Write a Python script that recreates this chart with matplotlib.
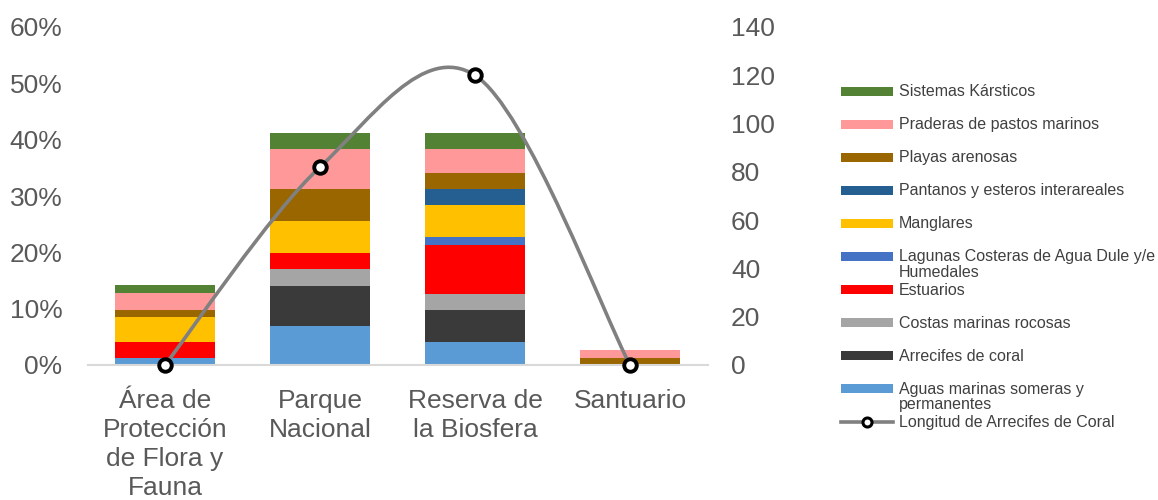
import numpy as np
import matplotlib
matplotlib.use("Agg")
from matplotlib import pyplot as plt
from matplotlib.patches import Rectangle
from matplotlib.lines import Line2D
from matplotlib.path import Path
from matplotlib.patches import PathPatch

plt.rcParams['font.family'] = ['Liberation Sans', 'DejaVu Sans']

categories = ['Área de\nProtección\nde Flora y\nFauna', 'Parque\nNacional',
              'Reserva de\nla Biosfera', 'Santuario']

# stacked habitat shares (%), bottom to top
series_names = ['Aguas marinas someras y\npermanentes', 'Arrecifes de coral',
                'Costas marinas rocosas', 'Estuarios',
                'Lagunas Costeras de Agua Dule y/e\nHumedales', 'Manglares',
                'Pantanos y esteros interareales', 'Playas arenosas',
                'Praderas de pastos marinos', 'Sistemas Kársticos']
aguas = [1.3, 7.0, 4.1, 0.0]
arrecifes = [0.0, 7.1, 5.7, 0.0]
costas = [0.0, 2.9, 2.85, 0.0]
estuarios = [2.85, 2.8, 8.65, 0.0]
lagunas = [0.0, 0.0, 1.4, 0.0]
manglares = [4.3, 5.8, 5.75, 0.0]
pantanos = [0.0, 0.0, 2.8, 0.0]
playas = [1.4, 5.7, 2.85, 1.2]
praderas = [2.9, 7.1, 4.3, 1.5]
karsticos = [1.5, 2.8, 2.85, 0.0]
series_values = [aguas, arrecifes, costas, estuarios, lagunas, manglares,
                 pantanos, playas, praderas, karsticos]
colors = ['#5B9BD5', '#3A3A3A', '#A5A5A5', '#FF0000', '#4472C4', '#FFC000',
          '#255E91', '#996600', '#FF9999', '#548235']

# coral reef length (right axis)
longitud = [0, 82, 120, 0]
line_name = 'Longitud de Arrecifes de Coral'

TICK_COLOR = '#595959'
FS = 19

fig = plt.figure(figsize=(11.58, 5), dpi=100)
ax = fig.add_axes([87.5 / 1158, 1 - 365 / 500, 620 / 1158, 338 / 500])
x = np.arange(len(categories))
bottom = np.zeros(len(categories))
for vals, c in zip(series_values, colors):
    v = np.array(vals) / 100.0
    ax.bar(x, v, 0.645, bottom=bottom, color=c, edgecolor='none', zorder=2)
    bottom += v

ax.set_xlim(-0.5, len(categories) - 0.5)
ax.set_ylim(0, 0.6)
ax.set_yticks(np.arange(0, 0.61, 0.1))
ax.set_yticklabels(['%d%%' % round(t * 100) for t in np.arange(0, 0.61, 0.1)])
ax.set_xticks(x)
ax.set_xticklabels(categories, linespacing=1.25)
for s in ['top', 'left', 'right']:
    ax.spines[s].set_visible(False)
ax.spines['bottom'].set_color('#D9D9D9')
ax.spines['bottom'].set_linewidth(1.5)
ax.tick_params(axis='y', length=0, pad=18, labelsize=FS, labelcolor=TICK_COLOR)
ax.tick_params(axis='x', length=0, pad=17.5, labelsize=FS, labelcolor=TICK_COLOR)

ax2 = ax.twinx()
ax2.set_ylim(0, 140)
ax2.set_yticks(np.arange(0, 141, 20))
for s in ['top', 'left', 'right', 'bottom']:
    ax2.spines[s].set_visible(False)
ax2.tick_params(axis='y', length=0, pad=17, labelsize=FS, labelcolor=TICK_COLOR)

# smoothed line (bezier through the points, like Excel's smoothing)
px = x.astype(float)
py = np.array(longitud, dtype=float)
n = len(px)
verts = [(px[0], py[0])]
codes = [Path.MOVETO]
for i in range(n - 1):
    i0 = max(i - 1, 0)
    i3 = min(i + 2, n - 1)
    c1 = (px[i] + (px[i + 1] - px[i0]) / 6, py[i] + (py[i + 1] - py[i0]) / 6)
    c2 = (px[i + 1] - (px[i3] - px[i]) / 6, py[i + 1] - (py[i3] - py[i]) / 6)
    verts += [c1, c2, (px[i + 1], py[i + 1])]
    codes += [Path.CURVE4] * 3
ax2.add_patch(PathPatch(Path(verts, codes), facecolor='none', edgecolor='#808080',
                        lw=2.6, zorder=3, clip_on=False))
ax2.plot(px, py, linestyle='none', marker='o', markersize=9, markerfacecolor='white',
         markeredgecolor='black', markeredgewidth=2.8, zorder=4, clip_on=False)

# legend drawn by hand, Excel style
leg_items = list(zip(series_names, colors))[::-1]
y0 = 91
step = 33.1
for i, (name, c) in enumerate(leg_items):
    yc = y0 + i * step
    fig.add_artist(Rectangle((841 / 1158, 1 - (yc + 4.5) / 500), 52 / 1158, 9 / 500,
                             transform=fig.transFigure, facecolor=c, edgecolor='none'))
    fig.text(899 / 1158, 1 - (yc - 7) / 500, name, fontsize=11.5, color='#404040',
             va='top', ha='left', linespacing=1.05)
yc = y0 + len(leg_items) * step
fig.add_artist(Line2D([841 / 1158, 893 / 1158], [1 - yc / 500, 1 - yc / 500],
                      transform=fig.transFigure, color='#808080', lw=2.6))
fig.add_artist(Line2D([867 / 1158], [1 - yc / 500], transform=fig.transFigure,
                      marker='o', markersize=6.5, markerfacecolor='white',
                      markeredgecolor='black', markeredgewidth=2.2))
fig.text(899 / 1158, 1 - (yc - 7) / 500, line_name, fontsize=11.5, color='#404040',
         va='top', ha='left')

fig.savefig('out.png', dpi=100)
